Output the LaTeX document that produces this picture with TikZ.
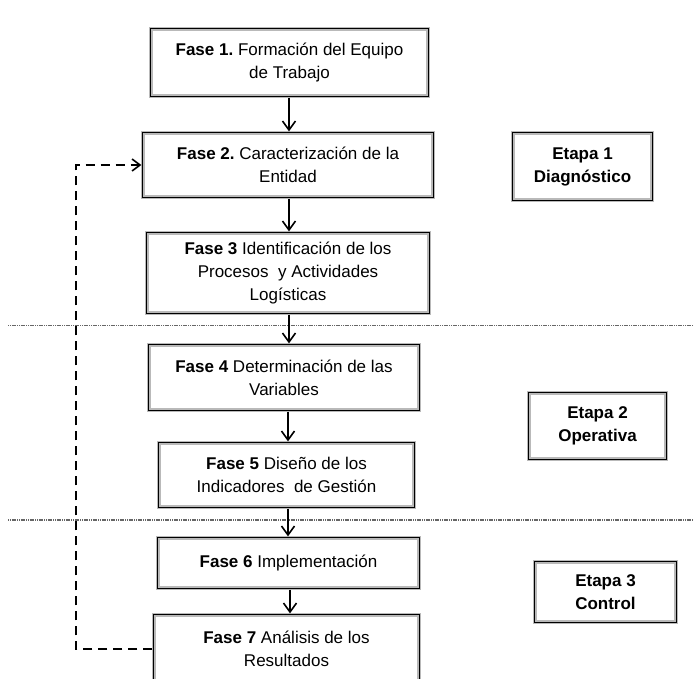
\documentclass[tikz,border=0pt]{standalone}
\usepackage{fontspec}
\setmainfont{Liberation Sans}
\usetikzlibrary{arrows.meta}
\frenchspacing
\begin{document}
\begin{tikzpicture}[x=1pt,y=-1pt]
\tikzset{
  fase/.style={draw=gray!55, line width=3.2pt, fill=white, inner sep=0pt, align=center,
    font=\fontsize{17}{23}\selectfont},
  etapa/.style={fase, font=\fontsize{17}{23}\selectfont\bfseries},
  flow/.style={line width=1.6pt, -{Straight Barb[length=9pt,width=13pt,line width=1.6pt]}},
  feedback/.style={line width=1.8pt, dash pattern=on 9pt off 6pt,
    -{Straight Barb[length=8pt,width=12pt,line width=1.6pt]}},
  sep/.style={black!60, line width=1.8pt, dash pattern=on 1.2pt off 0.6pt},
}
\useasboundingbox (0,0) rectangle (694,679);
\begin{scope}
\clip (0,0) rectangle (694,679);
% stage separators
\draw[sep] (8,325.5) -- (694,325.5);
\draw[sep] (8,520) -- (694,520);
% phase boxes
\node[fase, minimum width=277pt, minimum height=67pt] (B1) at (289.5,62.5)
  {{\bfseries Fase 1.} Formación del Equipo\\de Trabajo};
\node[fase, minimum width=290pt, minimum height=64pt] (B2) at (288,165)
  {{\bfseries Fase 2.} Caracterización de la\\Entidad};
\node[fase, minimum width=282pt, minimum height=80pt] (B3) at (288,273)
  {{\bfseries Fase 3} Identificación de los\\Procesos~ y Actividades\\Logísticas};
\node[fase, minimum width=270pt, minimum height=65pt] (B4) at (284,377.5)
  {{\bfseries Fase 4} Determinación de las\\Variables};
\node[fase, minimum width=255pt, minimum height=64pt] (B5) at (286.5,475)
  {{\bfseries Fase 5} Diseño de los\\Indicadores~ de Gestión};
\node[fase, minimum width=261pt, minimum height=50pt] (B6) at (288.5,563)
  {{\bfseries Fase 6} Implementación};
\node[fase, minimum width=265pt, minimum height=68pt] (B7) at (286.5,649)
  {{\bfseries Fase 7} Análisis de los\\Resultados};
% stage boxes
\node[etapa, minimum width=139pt, minimum height=67pt] (E1) at (582.5,166.5)
  {Etapa 1\\Diagnóstico};
\node[etapa, minimum width=137pt, minimum height=66pt] (E2) at (597.5,426)
  {Etapa 2\\Operativa};
\node[etapa, minimum width=141pt, minimum height=60pt] (E3) at (605.5,592)
  {Etapa 3\\Control};
% inner black frames
\foreach \n in {B1,B2,B3,B4,B5,B6,B7,E1,E2,E3}
  \draw[line width=1pt] ([shift={(1.4,1.4)}]\n.north west) rectangle ([shift={(-1.4,-1.4)}]\n.south east);
% flow arrows
\coordinate (ax) at (289,0);
\coordinate (bx) at (288,0);
\coordinate (cx) at (290,0);
\coordinate (lx) at (76,0);
\draw[flow] (B1.south -| ax) -- (B2.north -| ax);
\draw[flow] (B2.south -| ax) -- (B3.north -| ax);
\draw[flow] (B3.south -| ax) -- (B4.north -| ax);
\draw[flow] (B4.south -| bx) -- (B5.north -| bx);
\draw[flow] (B5.south -| bx) -- (B6.north -| bx);
\draw[flow] (B6.south -| cx) -- (B7.north -| cx);
% feedback loop
\draw[feedback] (B7.west) -- (B7.west -| lx) -- (B2.west -| lx) -- (B2.west);
\end{scope}
\end{tikzpicture}
\end{document}
